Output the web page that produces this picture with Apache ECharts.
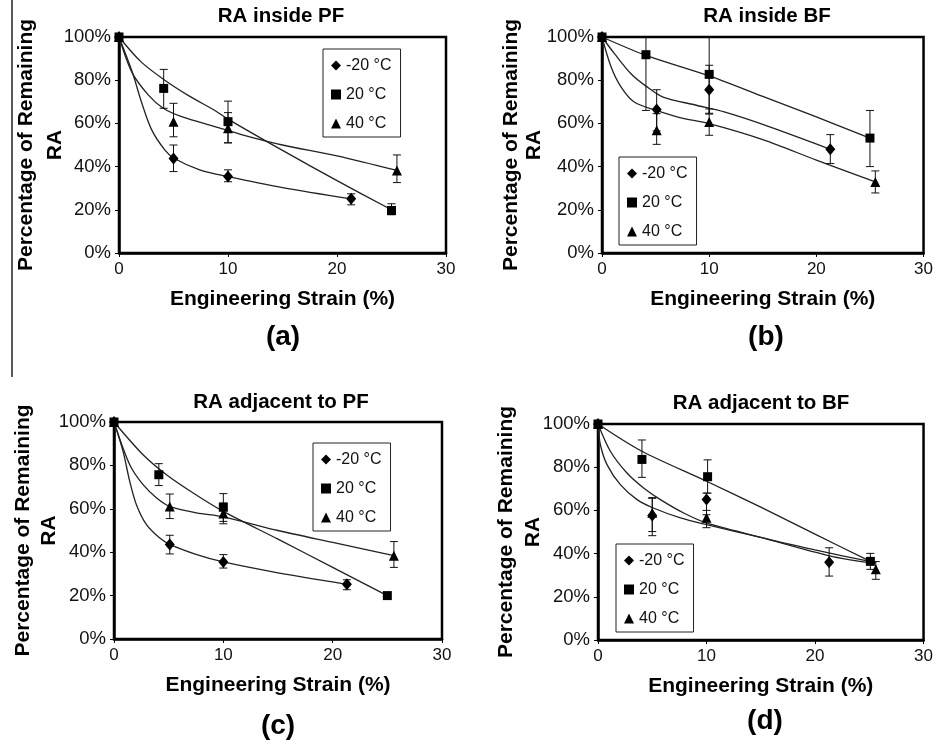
<!DOCTYPE html>
<html>
<head>
<meta charset="utf-8">
<script src="https://cdn.jsdelivr.net/npm/echarts@6/dist/echarts.min.js"></script>
<style>
html,body{margin:0;padding:0;background:#fff;}
#chart{width:936px;height:744px;}
</style>
</head>
<body>
<div id="chart"></div>
<script>
// ---------- DATA ----------
const seriesNames = ['-20 °C', '20 °C', '40 °C'];
const panelTitles = ['RA inside PF', 'RA inside BF', 'RA adjacent to PF', 'RA adjacent to BF'];
const panelLabels = ['(a)', '(b)', '(c)', '(d)'];
const xTicks = [0, 10, 20, 30];
const yTicks = [0, 20, 40, 60, 80, 100];

// points: [strain %, remaining RA %, error low, error high]
// Panel (a) RA inside PF
const a_m20 = [[0, 100, null, null], [5, 43.8, 37.7, 50], [10, 35.4, 33, 38.5], [21.3, 25.1, 22.3, 27.4]];
const a_p20 = [[0, 100, null, null], [4.1, 76.2, 67, 85], [10, 60.8, 51, 70.3], [25, 19.7, 17.7, 22.8]];
const a_p40 = [[0, 100, null, null], [5, 60.8, 53.8, 69.3], [10, 57.7, 51, 65], [25.5, 38.2, 32.6, 45.4]];
// trend lines (a)
const a_m20_fit = [[0, 100], [1.2, 84], [2.1, 69.3], [3.0, 57], [4.2, 47.7], [5, 44], [7.4, 38.5], [10, 35.4], [15, 30.3], [21.3, 25.1]];
const a_p20_fit = [[0, 100], [2, 88.6], [4.2, 80], [6.5, 72.5], [8.8, 66], [10, 62], [15, 47.5], [20, 33.5], [25, 20]];
const a_p40_fit = [[0, 100], [1.2, 83.5], [2.7, 73.1], [4.06, 67], [5.75, 63.1], [8.8, 58.5], [11.4, 54.6], [15, 50], [20, 45], [25.5, 38.2]];

// Panel (b) RA inside BF
const b_m20 = [[0, 100, null, null], [5.1, 66.4, 56.5, 75.6], [10, 75.6, 64.3, 86.9], [21.3, 48, 41.4, 54.8]];
const b_p20 = [[0, 100, null, null], [4.1, 91.8, 66, 117.6], [10, 82.7, 64.7, 100.7], [25, 53.2, 40, 66]];
const b_p40 = [[0, 100, null, null], [5.1, 56.8, 50.3, 64.5], [10, 60.6, 54.5, 66.7], [25.5, 32.9, 27.8, 38]];
const b_m20_fit = [[0, 100], [1.16, 92.3], [2.7, 83], [4.2, 76.9], [5.7, 72.2], [8.8, 68.4], [11.4, 65.3], [15, 59.5], [21.3, 48]];
const b_p20_fit = [[0, 100], [4.1, 91.5], [10, 82], [15, 72.5], [20, 63], [25, 53.2]];
const b_p40_fit = [[0, 100], [0.85, 86.1], [1.77, 76.9], [3.0, 69.9], [5.0, 66.1], [7.25, 62.7], [10, 59.9], [15, 52.5], [20, 43], [25.5, 32.9]];

// Panel (c) RA adjacent to PF
const c_m20 = [[0, 100, null, null], [5.1, 43.6, 39.2, 47.8], [10, 35.5, 32.7, 38.9], [21.3, 25.2, 22.7, 27.3]];
const c_p20 = [[0, 100, null, null], [4.1, 75.7, 70.7, 80.8], [10, 60.7, 54.2, 67], [25, 20, null, null]];
const c_p40 = [[0, 100, null, null], [5.1, 61.1, 55.5, 66.8], [10, 57.8, 53.1, 62.7], [25.6, 38.4, 33, 44.9]];
const c_m20_fit = [[0, 100], [0.83, 86.5], [1.44, 72.6], [2.05, 61.9], [2.97, 52.7], [4.19, 46.5], [5.1, 43.6], [7.5, 39], [10, 35.5], [15, 30.5], [21.3, 25.2]];
const c_p20_fit = [[0, 100], [2.66, 84.9], [4.8, 75.7], [7.24, 67.3], [10, 58.8], [15, 46], [20, 33], [25, 20]];
const c_p40_fit = [[0, 100], [1.44, 80.3], [2.66, 71.1], [3.9, 65], [5.1, 61.1], [7.55, 58.1], [10, 56.3], [15, 50], [20, 44.5], [25.6, 38.4]];

// Panel (d) RA adjacent to BF
const d_m20 = [[0, 100, null, null], [5, 57.6, 50.2, 65.9], [10, 65.1, 58, 68], [21.3, 36, 29.6, 42.7]];
const d_p20 = [[0, 100, null, null], [4.05, 83.6, 75.3, 92.6], [10.1, 75.6, 68, 83.4], [25.1, 36.4, 32.7, 40.1]];
const d_p40 = [[0, 100, null, null], [5, 58.9, 48.3, 65.6], [10, 56.6, 52, 60], [25.6, 32.7, 28.1, 36.3]];
const d_m20_fit = [[0, 100], [1.14, 87.4], [2.67, 77.3], [4.2, 70.4], [5.75, 65], [7.9, 58.8], [10, 54.2], [15, 47.5], [21.3, 39], [25.5, 35.5]];
const d_p20_fit = [[0, 100], [4, 87.5], [10, 73.5], [15, 61.5], [20, 49], [25.1, 36.4]];
const d_p40_fit = [[0, 100], [0.22, 90.4], [0.83, 81.2], [2.06, 71.9], [3.6, 65], [5.1, 61.1], [7.6, 56.5], [10, 53.4], [15, 47.5], [20, 41.7], [25.6, 35.8]];

// ---------- LAYOUT ----------
const FONT = "'Liberation Sans', Arial, Helvetica, sans-serif";
const panels = [
  {pts: [a_m20, a_p20, a_p40], fits: [a_m20_fit, a_p20_fit, a_p40_fit],
   grid: {left: 119, top: 37, width: 327, height: 216}, legend: {left: 323, top: 49},
   yGap: 49, yLH: 29, title: {x: 281, y: 5}, label: {x: 283, y: 322}},
  {pts: [b_m20, b_p20, b_p40], fits: [b_m20_fit, b_p20_fit, b_p40_fit],
   grid: {left: 602, top: 37, width: 328, height: 216}, legend: {left: 619, top: 157},
   yGap: 56, yLH: 23, title: {x: 767, y: 5}, label: {x: 766, y: 322}},
  {pts: [c_m20, c_p20, c_p40], fits: [c_m20_fit, c_p20_fit, c_p40_fit],
   grid: {left: 114, top: 422, width: 328, height: 217}, legend: {left: 313, top: 443},
   yGap: 52, yLH: 26, title: {x: 281, y: 391}, label: {x: 278, y: 711}},
  {pts: [d_m20, d_p20, d_p40], fits: [d_m20_fit, d_p20_fit, d_p40_fit],
   grid: {left: 598, top: 424, width: 326, height: 216}, legend: {left: 616, top: 544},
   yGap: 51, yLH: 27, title: {x: 761, y: 392}, label: {x: 765, y: 706}}
];
const symbols = ['diamond', 'rect', 'triangle'];
const symbolSizes = [[10, 12], 9, 10];

function renderErr(params, api) {
  const x = api.value(0), lo = api.value(1), hi = api.value(2);
  if (lo == null || hi == null || isNaN(lo) || isNaN(hi)) return null;
  const p1 = api.coord([x, hi]);
  const p2 = api.coord([x, lo]);
  const w = 4;
  const st = {stroke: '#111', lineWidth: 1};
  return {type: 'group', children: [
    {type: 'line', shape: {x1: p1[0], y1: p1[1], x2: p2[0], y2: p2[1]}, style: st},
    {type: 'line', shape: {x1: p1[0] - w, y1: p1[1], x2: p1[0] + w, y2: p1[1]}, style: st},
    {type: 'line', shape: {x1: p2[0] - w, y1: p2[1], x2: p2[0] + w, y2: p2[1]}, style: st}
  ]};
}

const grid = [], xAxis = [], yAxis = [], series = [], legend = [], title = [];
panels.forEach((p, i) => {
  grid.push(Object.assign({show: true, borderColor: '#000', borderWidth: 2.5, backgroundColor: 'transparent'}, p.grid));
  xAxis.push({
    type: 'value', gridIndex: i, min: xTicks[0], max: xTicks[xTicks.length - 1], interval: xTicks[1] - xTicks[0],
    axisLine: {show: true, lineStyle: {color: '#000', width: 2.5}},
    axisTick: {show: true, length: 4, lineStyle: {color: '#000', width: 1}},
    splitLine: {show: false},
    axisLabel: {color: '#111', fontSize: 17, fontFamily: FONT, margin: 8},
    name: 'Engineering Strain (%)', nameLocation: 'middle', nameGap: 36, nameMoveOverlap: false,
    nameTextStyle: {color: '#000', fontSize: 21, fontWeight: 'bold', fontFamily: FONT}
  });
  yAxis.push({
    type: 'value', gridIndex: i, min: yTicks[0], max: yTicks[yTicks.length - 1], interval: yTicks[1] - yTicks[0],
    axisLine: {show: true, lineStyle: {color: '#000', width: 2.5}},
    axisTick: {show: true, length: 4, lineStyle: {color: '#000', width: 1}},
    splitLine: {show: false},
    axisLabel: {color: '#111', fontSize: 18.5, fontFamily: FONT, margin: 8, formatter: '{value}%'},
    name: 'Percentage of Remaining\nRA', nameLocation: 'middle', nameRotate: 90, nameGap: p.yGap, nameMoveOverlap: false,
    nameTextStyle: {color: '#000', fontSize: 21, fontWeight: 'bold', fontFamily: FONT, lineHeight: p.yLH, align: 'center'}
  });
  p.fits.forEach((f, k) => {
    series.push({
      type: 'line', name: 'fit' + i + '_' + k, xAxisIndex: i, yAxisIndex: i, data: f,
      smooth: 0.3, showSymbol: false, symbol: 'none', silent: true,
      lineStyle: {color: '#222', width: 1.3}, z: 2, animation: false
    });
  });
  p.pts.forEach((pts, k) => {
    series.push({
      type: 'custom', name: 'err' + i + '_' + k, xAxisIndex: i, yAxisIndex: i, clip: true,
      data: pts.filter(d => d[2] != null).map(d => [d[0], d[2], d[3]]),
      encode: {x: 0, y: [1, 2]}, renderItem: renderErr, z: 3, silent: true, animation: false
    });
    series.push({
      type: 'scatter', name: seriesNames[k], xAxisIndex: i, yAxisIndex: i,
      data: pts.map(d => [d[0], d[1]]), symbol: symbols[k], symbolSize: symbolSizes[k],
      itemStyle: {color: '#000', opacity: 1}, z: 4, animation: false
    });
  });
  legend.push({
    left: p.legend.left, top: p.legend.top, orient: 'vertical',
    data: seriesNames.map((n, k) => ({name: n, icon: symbols[k]})),
    itemWidth: 10, itemHeight: 10, itemGap: 10, itemTextGap: 6,
    padding: [7, 9, 4, 8], borderColor: '#222', borderWidth: 1, backgroundColor: '#fff',
    textStyle: {color: '#111', fontSize: 16, fontFamily: FONT, lineHeight: 19},
    itemStyle: {color: '#000'}, selectedMode: false
  });
  title.push({
    text: panelTitles[i], left: p.title.x, top: p.title.y, textAlign: 'center', padding: 0,
    textStyle: {color: '#000', fontSize: 20.5, fontWeight: 'bold', fontFamily: FONT, lineHeight: 22}
  });
  title.push({
    text: panelLabels[i], left: p.label.x, top: p.label.y, textAlign: 'center', padding: 0,
    textStyle: {color: '#000', fontSize: 28, fontWeight: 'bold', fontFamily: FONT, lineHeight: 30}
  });
});

const chart = echarts.init(document.getElementById('chart'), null, {renderer: 'canvas'});
chart.setOption({
  backgroundColor: '#fff',
  animation: false,
  title, grid, xAxis, yAxis, series, legend,
  graphic: [{type: 'line', shape: {x1: 12, y1: 0, x2: 12, y2: 377}, style: {stroke: '#222', lineWidth: 1.5}, silent: true}]
});
</script>
</body>
</html>
